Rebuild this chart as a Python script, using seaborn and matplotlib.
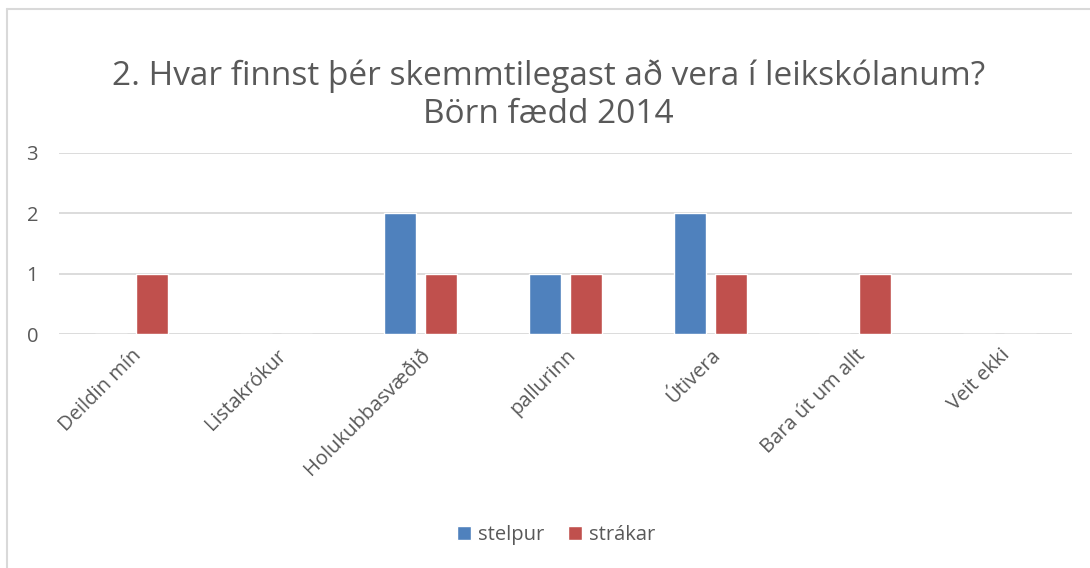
import matplotlib
matplotlib.use("Agg")
import matplotlib.pyplot as plt
from matplotlib.lines import Line2D
import pandas as pd
import seaborn as sns

# data
categories = ["Deildin mín", "Listakrókur", "Holukubbasvæðið", "pallurinn",
              "Útivera", "Bara út um allt", "Veit ekki"]
stelpur = [0, 0, 2, 1, 2, 0, 0]
strakar = [1, 0, 1, 1, 1, 1, 0]
series_names = ["stelpur", "strákar"]
colors = ["#4F81BD", "#C0504D"]
title = "2. Hvar finnst þér skemmtilegast að vera í leikskólanum?\nBörn fædd 2014"

df = pd.DataFrame({
    "flokkur": categories * 2,
    "fjoldi": stelpur + strakar,
    "hopur": [series_names[0]] * len(categories) + [series_names[1]] * len(categories),
})

sns.set_theme(style="white")
plt.rcParams["font.family"] = ["Open Sans", "DejaVu Sans"]
text_color = "#595959"
grid_color = "#D9D9D9"

fig = plt.figure(figsize=(10.9, 5.68), dpi=100)
ax = fig.add_axes([59 / 1090, 1 - 334 / 568, (1072 - 59) / 1090, (334 - 153) / 568])

sns.barplot(data=df, x="flokkur", y="fjoldi", hue="hopur", order=categories,
            hue_order=series_names, palette=colors, width=0.565, gap=0.22,
            saturation=1, ax=ax, legend=True)

ax.set_ylim(0, 3)
ax.set_yticks([0, 1, 2, 3])
ax.set_xlim(-0.5, len(categories) - 0.5)
ax.set_xlabel("")
ax.set_ylabel("")
for s in ax.spines.values():
    s.set_visible(False)
ax.yaxis.grid(True, color=grid_color, linewidth=1.3)
ax.set_axisbelow(True)
ax.tick_params(axis="both", length=0, colors=text_color, labelsize=14.5)
ax.tick_params(axis="y", pad=15)
ax.tick_params(axis="x", pad=8)
plt.setp(ax.get_xticklabels(), rotation=45, ha="right", rotation_mode="anchor")

fig.text(0.503, 1 - 95 / 568, title, ha="center", va="center", fontsize=24,
         color=text_color, linespacing=1.2)

leg = ax.legend(loc="center", bbox_to_anchor=(556 / 1090, 1 - 535 / 568), bbox_transform=fig.transFigure,
                ncol=2, frameon=False, fontsize=14.5, handlelength=0.7, handleheight=0.7,
                handletextpad=0.35, columnspacing=1.2)
for t in leg.get_texts():
    t.set_color(text_color)

# chart border (only top and left edges visible in the crop)
fig.add_artist(Line2D([7 / 1090, 1.0], [1 - 9 / 568, 1 - 9 / 568], color=grid_color, linewidth=1.5))
fig.add_artist(Line2D([7 / 1090, 7 / 1090], [0, 1 - 9 / 568], color=grid_color, linewidth=1.5))

fig.savefig("out.png", dpi=100, facecolor="white")
